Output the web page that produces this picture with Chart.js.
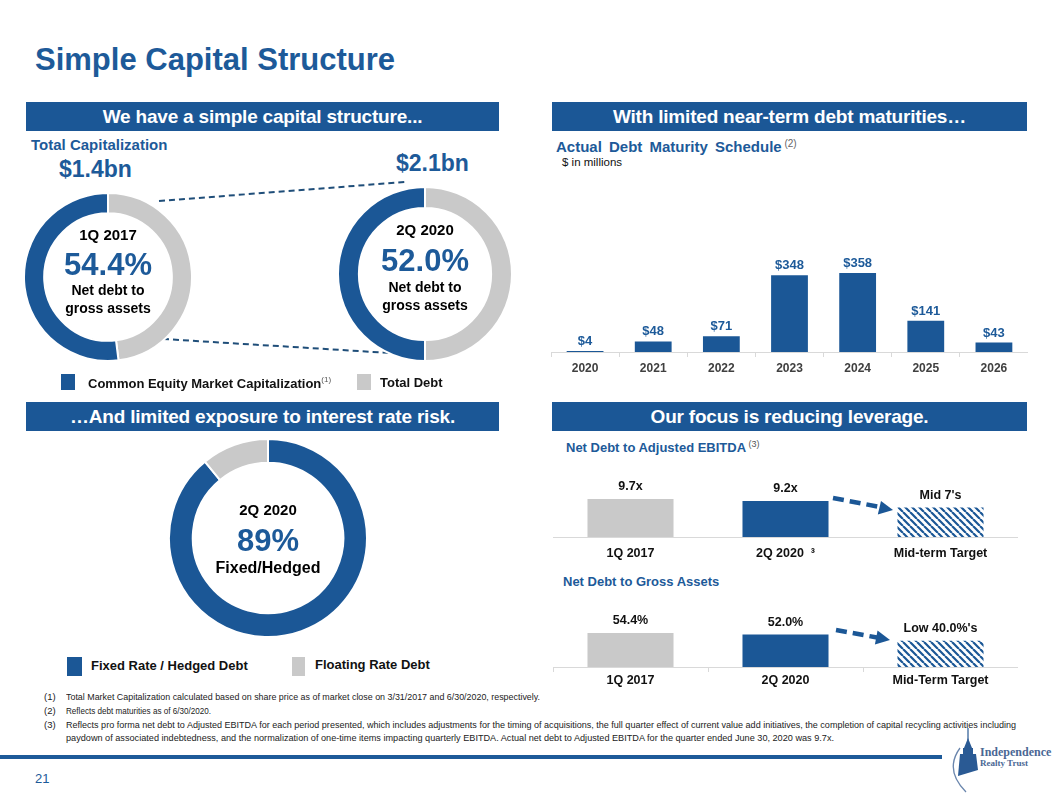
<!DOCTYPE html>
<html><head><meta charset="utf-8">
<script src="https://cdn.jsdelivr.net/npm/chart.js@4.4.1/dist/chart.umd.min.js"></script>
<style>
body{margin:0;width:1058px;height:796px;position:relative;background:#fff;font-family:"Liberation Sans",Arial,sans-serif;overflow:hidden}
.abs{position:absolute}
.hdr{position:absolute;background:#1B5796;color:#fff;font-weight:bold;font-size:19px;text-align:center;height:29px;line-height:29px;letter-spacing:-0.2px}
.c{position:absolute;text-align:center;font-weight:bold;white-space:nowrap;transform:translate(-50%,-50%);line-height:1}
.t{position:absolute;white-space:nowrap;line-height:1}
.sq{position:absolute}
.fn{position:absolute;font-family:"Liberation Sans",Arial,sans-serif;font-size:9.5px;color:#222;white-space:nowrap;line-height:1;transform-origin:0 0}
.box{position:absolute}
</style></head>
<body>
<div class="t" style="left:35px;top:44px;font-size:31px;font-weight:bold;color:#1D5A99">Simple Capital Structure</div>

<div class="hdr" style="left:26px;top:102px;width:473px">We have a simple capital structure...</div>
<div class="hdr" style="left:552px;top:102px;width:475px">With limited near-term debt maturities…</div>
<div class="hdr" style="left:26px;top:402px;width:473px">…And limited exposure to interest rate risk.</div>
<div class="hdr" style="left:552px;top:402px;width:475px">Our focus is reducing leverage.</div>

<svg class="abs" style="left:0;top:0" width="1058" height="796">
  <line x1="159" y1="201" x2="405" y2="182" stroke="#1F4E79" stroke-width="2" stroke-dasharray="6,4"/>
  <line x1="163" y1="339" x2="407" y2="354" stroke="#1F4E79" stroke-width="2" stroke-dasharray="6,4"/>
  <line x1="833" y1="498" x2="880" y2="507" stroke="#1B5796" stroke-width="4.5" stroke-dasharray="11,6"/>
  <polygon points="893,510 877.8,514.6 881,501" fill="#1B5796"/>
  <line x1="836" y1="630" x2="877" y2="637.5" stroke="#1B5796" stroke-width="4.5" stroke-dasharray="11,6"/>
  <polygon points="890,640 874.9,644.4 877.5,630.6" fill="#1B5796"/>
  <rect x="0" y="755" width="942" height="4" fill="#1D5A99"/>
  <path d="M960 748 Q944 770 966 792" fill="none" stroke="#6a86ad" stroke-width="1.3"/>
  <g fill="#2a5a94">
    <rect x="967.4" y="728" width="1.2" height="12"/>
    <polygon points="968,738 964,748 972,748"/>
    <rect x="963" y="748" width="10" height="6"/>
    <polygon points="960,754 976,754 978,770 958,776"/>
  </g>
</svg>

<div class="t" style="left:31px;top:137px;font-size:15px;font-weight:bold;color:#1D5A99">Total Capitalization</div>
<div class="t" style="left:59px;top:158px;font-size:23px;font-weight:bold;color:#1D5A99">$1.4bn</div>
<div class="t" style="left:396px;top:152px;font-size:23px;font-weight:bold;color:#1D5A99">$2.1bn</div>

<div class="box" style="left:23px;top:192px;width:170px;height:170px"><canvas id="d1"></canvas></div>
<div class="box" style="left:337px;top:186px;width:176px;height:176px"><canvas id="d2"></canvas></div>

<div class="c" style="left:108px;top:234px;font-size:15px;color:#000">1Q 2017</div>
<div class="c" style="left:108px;top:264px;font-size:31px;color:#1D5A99">54.4%</div>
<div class="c" style="left:108px;top:290px;font-size:14px;color:#000">Net debt to</div>
<div class="c" style="left:108px;top:308px;font-size:14px;color:#000">gross assets</div>

<div class="c" style="left:425px;top:229px;font-size:15px;color:#000">2Q 2020</div>
<div class="c" style="left:425px;top:260px;font-size:31px;color:#1D5A99">52.0%</div>
<div class="c" style="left:425px;top:287px;font-size:14px;color:#000">Net debt to</div>
<div class="c" style="left:425px;top:305px;font-size:14px;color:#000">gross assets</div>

<div class="sq" style="left:61px;top:374px;width:14px;height:16px;background:#1B5796"></div>
<div class="t" style="left:88px;top:376px;font-size:13px;font-weight:bold;color:#111">Common Equity Market Capitalization<span style="font-size:8px;font-weight:normal;vertical-align:6px;color:#555">(1)</span></div>
<div class="sq" style="left:357px;top:374px;width:14px;height:16px;background:#C9C9C9"></div>
<div class="t" style="left:380px;top:376px;font-size:13px;font-weight:bold;color:#111">Total Debt</div>

<div class="t" style="left:556px;top:139px;font-size:15px;font-weight:bold;color:#1D5A99;word-spacing:3px">Actual Debt Maturity Schedule<span style="font-size:10px;font-weight:normal;color:#666;vertical-align:5px;word-spacing:0"> (2)</span></div>
<div class="t" style="left:562px;top:157px;font-size:11.5px;color:#111">$ in millions</div>
<div class="box" style="left:551px;top:182px;width:477px;height:200px"><canvas id="b1"></canvas></div>

<div class="box" style="left:168px;top:438px;width:200px;height:200px"><canvas id="d3"></canvas></div>
<div class="c" style="left:268px;top:509px;font-size:15px;color:#000">2Q 2020</div>
<div class="c" style="left:268px;top:540px;font-size:31px;color:#1D5A99">89%</div>
<div class="c" style="left:268px;top:568px;font-size:16px;color:#000">Fixed/Hedged</div>
<div class="sq" style="left:67px;top:657px;width:15px;height:19px;background:#1B5796"></div>
<div class="t" style="left:91px;top:659px;font-size:13px;font-weight:bold;color:#111">Fixed Rate / Hedged Debt</div>
<div class="sq" style="left:292px;top:657px;width:13px;height:19px;background:#C9C9C9"></div>
<div class="t" style="left:315px;top:658px;font-size:13px;font-weight:bold;color:#111">Floating Rate Debt</div>

<div class="t" style="left:566px;top:440px;font-size:13px;font-weight:bold;color:#1D5A99">Net Debt to Adjusted EBITDA<span style="font-size:9px;font-weight:normal;color:#555;vertical-align:5px"> (3)</span></div>
<div class="box" style="left:553px;top:470px;width:465px;height:100px"><canvas id="b2"></canvas></div>
<div class="t" style="left:563px;top:575px;font-size:13px;font-weight:bold;color:#1D5A99">Net Debt to Gross Assets</div>
<div class="box" style="left:553px;top:600px;width:465px;height:100px"><canvas id="b3"></canvas></div>

<div class="fn" style="left:44px;top:692px">(1)</div><div class="fn" data-w="474" style="left:66px;top:692px">Total Market Capitalization calculated based on share price as of market close on 3/31/2017 and 6/30/2020, respectively.</div>
<div class="fn" style="left:44px;top:706px">(2)</div><div class="fn" data-w="145" style="left:66px;top:706px">Reflects debt maturities as of 6/30/2020.</div>
<div class="fn" style="left:44px;top:720px">(3)</div><div class="fn" data-w="950" style="left:66px;top:720px">Reflects pro forma net debt to Adjusted EBITDA for each period presented, which includes adjustments for the timing of acquisitions, the full quarter effect of current value add initiatives, the completion of capital recycling activities including</div>
<div class="fn" data-w="768" style="left:66px;top:733px">paydown of associated indebtedness, and the normalization of one-time items impacting quarterly EBITDA. Actual net debt to Adjusted EBITDA for the quarter ended June 30, 2020 was 9.7x.</div>

<div class="t" style="left:35px;top:772px;font-size:13px;color:#1D5A99">21</div>
<div class="t" style="left:980px;top:746px;font-size:12px;font-weight:bold;font-family:'Liberation Serif',serif;color:#4a6794">Independence</div>
<div class="t" style="left:980px;top:759px;font-size:9px;font-weight:bold;font-family:'Liberation Serif',serif;color:#4a6794">Realty Trust</div>

<script>
// fit footnote lines to their measured widths in the reference
document.querySelectorAll('.fn[data-w]').forEach(el => {
  const w = el.getBoundingClientRect().width;
  el.style.transform = 'scaleX(' + (parseFloat(el.dataset.w) / w) + ')';
});

// ---- data ----
const capPeriods = ["1Q 2017", "2Q 2020"];
const capSeries = ["Total Debt", "Common Equity Market Capitalization"];
const cap1Q2017 = [48, 52];   // [debt, equity] share of total capitalization
const cap2Q2020 = [50, 50];
const maturityYears = ["2020", "2021", "2022", "2023", "2024", "2025", "2026"];
const maturityValues = [4, 48, 71, 348, 358, 141, 43];
const maturityLabels = ["$4", "$48", "$71", "$348", "$358", "$141", "$43"];
const rateSeries = ["Fixed Rate / Hedged Debt", "Floating Rate Debt"];
const rateValues = [89, 11];
const ebitdaCategories = ["1Q 2017", "2Q 2020  ³", "Mid-term Target"];
const ebitdaValues = [9.7, 9.2, 7.5];
const ebitdaLabels = ["9.7x", "9.2x", "Mid 7's"];
const grossCategories = ["1Q 2017", "2Q 2020", "Mid-Term Target"];
const grossValues = [54.4, 52.0, 42];
const grossLabels = ["54.4%", "52.0%", "Low 40.0%'s"];

const BLUE = "#1B5796", GRAY = "#C9C9C9";
const FONT = "'Liberation Sans', Arial, sans-serif";
Chart.defaults.font.family = FONT;
Chart.defaults.animation = false;

const barLabels = {
  id: 'barLabels',
  afterDatasetsDraw(chart, args, opts) {
    const meta = chart.getDatasetMeta(0);
    const ctx = chart.ctx;
    ctx.save();
    ctx.font = opts.font; ctx.fillStyle = opts.color;
    ctx.textAlign = 'center'; ctx.textBaseline = 'bottom';
    meta.data.forEach((el, i) => ctx.fillText(opts.labels[i], el.x, el.y - opts.offset));
    ctx.restore();
  }
};

function donut(id, labels, data, colors) {
  new Chart(document.getElementById(id), {
    type: 'doughnut',
    data: { labels, datasets: [{ data, backgroundColor: colors, borderColor: '#fff', borderWidth: 2, hoverOffset: 0 }] },
    options: { responsive: true, maintainAspectRatio: false, cutout: '76%', events: [],
      plugins: { legend: { display: false }, tooltip: { enabled: false } } }
  });
}
donut('d1', capSeries, cap1Q2017, [GRAY, BLUE]);
donut('d2', capSeries, cap2Q2020, [GRAY, BLUE]);
donut('d3', rateSeries, rateValues, [BLUE, GRAY]);

function hatch() {
  const c = document.createElement('canvas'); c.width = 7; c.height = 7;
  const g = c.getContext('2d');
  g.fillStyle = '#fff'; g.fillRect(0, 0, 7, 7);
  g.strokeStyle = BLUE; g.lineWidth = 2.2;
  g.beginPath();
  [-7, 0, 7].forEach(k => { g.moveTo(k, 0); g.lineTo(k + 7, 7); });
  g.stroke();
  return g.createPattern(c, 'repeat');
}

function bar(id, labels, data, colors, opt) {
  new Chart(document.getElementById(id), {
    type: 'bar',
    data: { labels, datasets: [{ data, backgroundColor: colors, barPercentage: opt.barPct, categoryPercentage: 1 }] },
    options: {
      responsive: true, maintainAspectRatio: false, events: [],
      layout: { padding: 0 },
      scales: {
        x: {
          afterFit: s => { s.height = opt.axisH; },
          grid: { display: opt.ticks, drawOnChartArea: false, drawTicks: true, tickLength: 5, color: '#D9D9D9', offset: true },
          border: { display: true, color: '#D9D9D9', width: 1 },
          ticks: { color: opt.tickColor, font: { weight: 'bold', size: opt.tickSize }, padding: opt.tickPad, maxRotation: 0, autoSkip: false }
        },
        y: { display: false, min: 0, max: opt.max }
      },
      plugins: { legend: { display: false }, tooltip: { enabled: false },
        barLabels: { labels: opt.labels, color: opt.labelColor, font: opt.labelFont, offset: opt.labelOffset } }
    },
    plugins: [barLabels]
  });
}

bar('b1', maturityYears, maturityValues, BLUE, { barPct: 0.54, axisH: 30, ticks: true, tickColor: '#404040', tickSize: 12, tickPad: 4, max: 770,
  labels: maturityLabels, labelColor: '#1D5A99', labelFont: "bold 13px " + FONT, labelOffset: 3 });
const H = hatch();
bar('b2', ebitdaCategories, ebitdaValues, [GRAY, BLUE, H], { barPct: 0.555, axisH: 33, ticks: false, tickColor: '#111', tickSize: 12.5, tickPad: 4, max: 17.1,
  labels: ebitdaLabels, labelColor: '#111', labelFont: "bold 12.5px " + FONT, labelOffset: 6 });
bar('b3', grossCategories, grossValues, [GRAY, BLUE, H], { barPct: 0.555, axisH: 33, ticks: true, tickColor: '#111', tickSize: 12.5, tickPad: 1, max: 107,
  labels: grossLabels, labelColor: '#111', labelFont: "bold 12.5px " + FONT, labelOffset: 6 });
</script>
</body></html>
